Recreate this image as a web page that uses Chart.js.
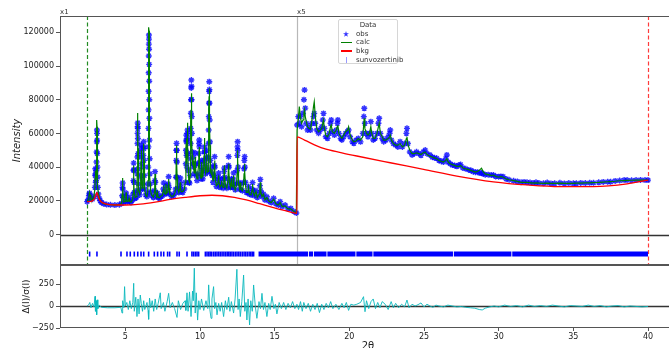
<!DOCTYPE html>
<html>
<head>
<meta charset="utf-8">
<title>Rietveld plot</title>
<script src="https://cdn.jsdelivr.net/npm/chart.js@4.4.1/dist/chart.umd.min.js"></script>
<style>
  html, body { margin: 0; padding: 0; background: #fff; }
  body { width: 669px; height: 348px; overflow: hidden; position: relative; font-family: 'DejaVu Sans', sans-serif; }
  canvas { position: absolute; left: 0; }
  #main { top: 0; }
  #resid { top: 264px; }
  .scaleTag { position: absolute; top: 8px; font-size: 7px; line-height: 8px; color: #333; }
  #legend { position: absolute; left: 338px; top: 19px; width: 60px; height: 45px; box-sizing: border-box;
            border: 1px solid #d6d6d6; border-radius: 2px; background: rgba(255,255,255,0.85);
            font-size: 7px; color: #333; }
  #legend .row { position: absolute; left: 0; right: 0; height: 8px; line-height: 8px; white-space: nowrap; }
  #legend .title { text-align: center; }
  #legend .txt { position: absolute; left: 17px; top: 0; }
  #legend .key { position: absolute; }
</style>
</head>
<body>
<canvas id="main" width="690" height="266"></canvas>
<canvas id="resid" width="690" height="101"></canvas>
<div class="scaleTag" id="tagLow">x1</div>
<div class="scaleTag" id="tagHigh">x5</div>
<div id="legend">
  <div class="row title" style="top:1px">Data</div>
  <div class="row" style="top:9.7px">
    <svg class="key" style="left:4px;top:1px" width="6" height="6" viewBox="0 0 10 10">
      <polygon points="5,0 6.2,3.6 10,3.6 6.9,5.9 8.1,9.6 5,7.3 1.9,9.6 3.1,5.9 0,3.6 3.8,3.6" fill="rgba(0,0,255,0.8)"/>
    </svg>
    <span class="txt">obs</span>
  </div>
  <div class="row" style="top:18.3px">
    <span class="key" style="left:2px;top:3.3px;width:11px;height:1.4px;background:#008000"></span>
    <span class="txt">calc</span>
  </div>
  <div class="row" style="top:27px">
    <span class="key" style="left:2px;top:3.3px;width:11px;height:1.4px;background:#ff0000"></span>
    <span class="txt">bkg</span>
  </div>
  <div class="row" style="top:35.7px">
    <span class="key" style="left:6.5px;top:1px;width:1.5px;height:6px;background:rgba(0,0,255,0.4)"></span>
    <span class="txt">sunvozertinib</span>
  </div>
</div>
<script>
// low angle part of the pattern (plotted x1)
const lowTth = [
  2.44, 2.50, 2.56, 2.60, 2.64, 2.70, 2.80, 2.90, 2.96, 2.98, 2.99, 3.00, 3.02, 3.04, 3.06, 3.07, 3.08, 3.09, 3.10, 3.105, 3.11, 3.12, 3.13, 3.14, 3.16, 3.19, 3.25, 3.32, 3.40,
  3.55, 3.75, 4.00, 4.30, 4.60,
  4.75, 4.79, 4.81, 4.82, 4.83, 4.85, 4.90, 5.00, 5.04, 5.05, 5.07, 5.13, 5.22, 5.25, 5.28, 5.38, 5.48,
  5.52, 5.54, 5.55, 5.56, 5.57, 5.58, 5.60, 5.66, 5.74,
  5.78, 5.80, 5.81, 5.815, 5.82, 5.825, 5.83, 5.835, 5.84, 5.85, 5.86, 5.88, 5.91, 5.96,
  6.01, 6.03, 6.05, 6.06, 6.07, 6.08, 6.09, 6.11, 6.14, 6.18, 6.20, 6.21, 6.22, 6.23, 6.24, 6.25, 6.27, 6.30, 6.36, 6.44,
  6.50, 6.52, 6.535, 6.545, 6.55, 6.555, 6.56, 6.565, 6.57, 6.575, 6.58, 6.585, 6.59, 6.595, 6.60, 6.605, 6.61, 6.62, 6.63, 6.645, 6.66, 6.69, 6.76, 6.88,
  6.95, 6.97, 6.99, 7.01, 7.04, 7.10, 7.15, 7.20, 7.30, 7.40, 7.48, 7.54, 7.57, 7.60, 7.66, 7.72, 7.76, 7.84, 7.87, 7.90, 7.93, 7.98, 8.10, 8.22, 8.32,
  8.37, 8.39, 8.41, 8.42, 8.43, 8.44, 8.45, 8.47, 8.50, 8.58, 8.64, 8.66, 8.68, 8.70, 8.74, 8.85, 8.95,
  9.02, 9.05, 9.06, 9.07, 9.08, 9.09, 9.10, 9.12, 9.14, 9.15, 9.16, 9.17, 9.18, 9.19, 9.21, 9.25, 9.30,
  9.34, 9.36, 9.37, 9.38, 9.39, 9.40, 9.41, 9.42, 9.43, 9.44, 9.45, 9.46, 9.48, 9.50, 9.53, 9.55, 9.57, 9.61,
  9.65, 9.68, 9.70, 9.74, 9.80, 9.86, 9.90, 9.92, 9.94, 9.95, 9.96, 9.98, 10.02, 10.07, 10.10, 10.12, 10.14, 10.19,
  10.25, 10.27, 10.29, 10.30, 10.31, 10.33, 10.37, 10.42, 10.44, 10.45, 10.46, 10.49, 10.54, 10.56, 10.57, 10.58, 10.59, 10.60, 10.61, 10.62, 10.63, 10.64, 10.65, 10.67, 10.69, 10.72,
  10.78, 10.80, 10.82, 10.87, 10.93, 10.96, 10.98, 11.00, 11.03, 11.10, 11.20, 11.23, 11.25, 11.27, 11.34, 11.43, 11.45, 11.48, 11.55, 11.60, 11.62, 11.63, 11.65, 11.70, 11.80,
  11.87, 11.90, 11.92, 11.94, 11.98, 12.04, 12.08, 12.10, 12.13, 12.20, 12.23, 12.25, 12.28, 12.36, 12.45, 12.48, 12.50, 12.51, 12.52, 12.53, 12.55, 12.58, 12.65, 12.70, 12.74, 12.84, 12.92, 12.95, 12.97, 12.99, 13.01, 13.04, 13.10,
  13.20, 13.25, 13.30, 13.42, 13.49, 13.52, 13.55, 13.64, 13.75, 13.84, 13.96, 14.01, 14.04, 14.07, 14.15, 14.25, 14.35, 14.48, 14.60, 14.78, 14.93, 15.08, 15.25, 15.37, 15.50, 15.70, 15.88, 16.08, 16.28, 16.45
];
const lowObs = [
  19500, 20500, 23000, 24500, 23500, 21500, 21000, 22500, 28000, 35000, 39000, 36000, 31000, 32000, 38000, 43000, 49000, 55000, 62000, 60000, 56000, 48000, 40000, 34000, 28000, 24000, 21500, 20000, 19000,
  18200, 17800, 17600, 17500, 17700,
  18500, 23000, 28000, 30600, 27000, 22000, 19200, 19500, 23000, 24600, 21000, 19500, 20000, 22000, 19800, 19000, 20500,
  24000, 32000, 38000, 42400, 38500, 31000, 25000, 21500, 22000,
  26000, 36000, 46000, 54000, 60000, 64000, 66200, 63000, 57000, 48000, 39000, 30000, 25000, 23500,
  27000, 35000, 46000, 51000, 53100, 49000, 42000, 33000, 27000, 30000, 40000, 47000, 52000, 55100, 51000, 44000, 35000, 27000, 23500, 22500,
  24500, 30000, 40000, 52000, 63000, 74000, 85000, 96000, 106000, 113000, 118400, 116000, 110000, 101000, 91000, 80000, 69000, 56000, 45000, 36000, 30000, 25500, 23000, 22000,
  26000, 32000, 37300, 31000, 25000, 22500, 24500, 22000, 21500, 22500, 23000, 27000, 30600, 25500, 24000, 29000, 24500, 25000, 30000, 34300, 28000, 24000, 22500, 23000, 24500,
  27000, 34000, 44000, 50000, 54100, 50000, 43000, 34000, 27500, 25000, 27500, 31000, 33500, 29000, 25500, 25000, 27000,
  31000, 42000, 50000, 56000, 59000, 55000, 47000, 40000, 48000, 56000, 60000, 62000, 57000, 48000, 38000, 31000, 30500,
  35000, 45000, 54000, 63000, 72000, 80000, 87000, 91700, 88000, 80000, 70000, 60000, 49000, 42000, 42000, 46000, 40000, 36000,
  41000, 48400, 42000, 35000, 32000, 36000, 42000, 48000, 54000, 56100, 52000, 43000, 35000, 33000, 40000, 44000, 38000, 33000,
  38000, 44000, 49000, 52000, 49000, 42000, 36000, 40000, 46000, 50000, 45000, 37000, 38000, 46000, 54000, 62000, 70000, 78000, 85000, 90700, 86000, 78000, 68000, 55000, 44000, 37000,
  36000, 40000, 35000, 31000, 35000, 41000, 46200, 40000, 33000, 28500, 30000, 34000, 36500, 32000, 28000, 30000, 33000, 29000, 27500, 33000, 37500, 39500, 34000, 29000, 27500,
  33000, 41000, 46200, 40000, 31000, 28000, 31000, 33000, 28500, 28000, 33000, 36500, 30000, 26500, 30000, 38000, 47000, 52000, 55100, 50000, 40000, 31000, 27000, 30000, 26500, 26000, 31000, 39000, 44000, 46200, 40000, 31000, 25000,
  25000, 28400, 24000, 23500, 27000, 30800, 26000, 23000, 26000, 22000, 24000, 29000, 32700, 26000, 22500, 24000, 20500, 22400, 19800, 19000, 21500, 18200, 17500, 19500, 16600, 17500, 15200, 15500, 13700, 12800
];
const lowCalc = [
  19600, 20500, 22500, 25000, 23500, 21200, 20800, 23000, 27000, 34000, 38000, 36500, 32000, 34000, 42000, 48000, 55000, 62000, 68000, 64000, 58000, 50000, 42000, 35500, 29000, 25000, 22000, 20200, 19200,
  18300, 17900, 17700, 17500, 17700,
  18600, 24000, 30500, 33500, 29000, 23000, 19300, 19800, 23500, 25000, 21500, 19600, 20000, 21500, 19800, 19200, 20800,
  24000, 31000, 37000, 41000, 37500, 30500, 25000, 22000, 22500,
  27000, 40000, 52000, 60000, 66000, 70000, 72100, 68000, 61000, 51000, 41000, 32000, 26000, 24000,
  27000, 34000, 44000, 48500, 50000, 47000, 41000, 33000, 27500, 30000, 39000, 46000, 51500, 54000, 50500, 44000, 35000, 27500, 23500, 22500,
  25000, 32000, 44000, 57000, 68000, 80000, 91000, 102000, 112000, 119000, 123000, 121000, 115000, 106000, 96000, 85000, 73000, 59000, 47000, 37000, 30500, 26000, 23500, 22200,
  25500, 31000, 36000, 30500, 25000, 22500, 25000, 22000, 21800, 23000, 23000, 26000, 29000, 25000, 24000, 30000, 24500, 25000, 29000, 33000, 27500, 24000, 22500, 23000, 24800,
  27000, 33500, 43000, 49000, 53000, 49500, 42500, 34000, 27500, 25000, 27000, 29500, 31000, 28000, 25500, 25500, 27000,
  31000, 41000, 48000, 54000, 57000, 54000, 47000, 42000, 53000, 61000, 64500, 66400, 61000, 52000, 40000, 32000, 31000,
  35000, 43000, 51000, 59000, 67000, 74000, 80000, 83800, 81000, 74000, 65000, 56000, 47000, 41000, 41000, 44000, 40000, 36500,
  40500, 46000, 41000, 35500, 33000, 37000, 41000, 46000, 50500, 52000, 49000, 41500, 35000, 33500, 39500, 43000, 38000, 34000,
  40000, 47000, 54000, 57300, 54000, 44000, 37000, 40000, 45000, 48000, 44000, 37000, 37500, 44000, 51000, 59000, 67000, 75000, 82000, 86700, 83000, 75000, 65000, 53000, 43000, 37000,
  35500, 39000, 35000, 31500, 34500, 40000, 44000, 39000, 33000, 29000, 30000, 33000, 35000, 31500, 28000, 29500, 32000, 29000, 28000, 34000, 39000, 41000, 35000, 29500, 27500,
  32000, 38500, 42000, 37500, 30500, 28000, 31000, 33500, 29000, 28000, 32000, 35000, 29500, 26500, 29500, 36000, 43000, 47500, 50000, 46000, 37500, 30000, 27000, 31000, 27000, 26000, 30000, 36000, 40500, 42000, 37500, 30000, 25000,
  25000, 28000, 24000, 23500, 26500, 30000, 25500, 23000, 25500, 22000, 24000, 28000, 31000, 25500, 22500, 24000, 20500, 22000, 19800, 19000, 21000, 18200, 17500, 19000, 16600, 17000, 15200, 15200, 13700, 12800
];

// high angle part, values as plotted (x5)
const highTth = [
  16.50, 16.58, 16.65, 16.72, 16.80, 16.90, 16.96, 17.00, 17.05, 17.12,
  17.20, 17.30, 17.40, 17.50, 17.60, 17.65, 17.72, 17.82, 17.94, 18.05,
  18.15, 18.22, 18.27, 18.33, 18.42, 18.54, 18.65, 18.74, 18.79, 18.86,
  19.00, 19.12, 19.20, 19.23, 19.30, 19.42, 19.50, 19.62, 19.75, 19.88,
  19.95, 20.05, 20.20, 20.30, 20.45, 20.60, 20.75, 20.90, 20.97, 21.00,
  21.04, 21.15, 21.25, 21.35, 21.44, 21.50, 21.60, 21.72, 21.85, 21.95,
  22.00, 22.08, 22.20, 22.30, 22.45, 22.60, 22.70, 22.74, 22.82, 22.95,
  23.10, 23.25, 23.40, 23.55, 23.70, 23.82, 23.86, 23.92, 24.05, 24.20,
  24.35, 24.50, 24.65, 24.80, 24.95, 25.08, 25.20, 25.40, 25.55, 25.70,
  25.85, 26.00, 26.15, 26.30, 26.45, 26.53, 26.62, 26.75, 26.90, 27.05,
  27.20, 27.35, 27.45, 27.60, 27.80, 28.00, 28.15, 28.30, 28.45, 28.60,
  28.75, 28.85, 28.95, 29.10, 29.30, 29.50, 29.65, 29.80, 30.00, 30.15,
  30.30, 30.50, 30.70, 31.00, 31.25, 31.50, 31.70, 31.90, 32.10, 32.30,
  32.50, 32.70, 33.00, 33.25, 33.50, 33.75, 34.10, 34.40, 34.70, 35.00,
  35.20, 35.50, 35.80, 36.10, 36.35, 36.70, 37.00, 37.30, 37.50, 37.80,
  38.10, 38.40, 38.60, 38.90, 39.20, 39.50, 39.80, 40.00
];
const highObs = [
  65000, 70000, 66000, 70000, 64000, 72000, 80000, 85800, 75000, 66000,
  62000, 64000, 62000, 66000, 70000, 71900, 66000, 62000, 60100, 62000,
  64000, 68000, 71900, 63000, 58000, 57100, 60000, 66000, 68000, 61000,
  59000, 62000, 66000, 68000, 60000, 57000, 56100, 58000, 60000, 61000,
  62000, 58000, 55000, 54100, 56000, 57000, 55000, 60000, 70000, 74900,
  66000, 60000, 58000, 60000, 67000, 60000, 56100, 57000, 60000, 66000,
  69000, 60000, 57000, 55100, 56000, 58000, 60000, 62000, 56000, 54000,
  53100, 52000, 55100, 52000, 54000, 60000, 63000, 54000, 49000, 47200,
  48000, 49100, 48000, 47000, 49000, 50100, 48000, 47200, 46000, 45500,
  45200, 44000, 43500, 43000, 45000, 47200, 43000, 42000, 41200, 41000,
  40500, 41200, 41500, 39500, 39000, 38300, 38000, 37300, 37000, 37000,
  36500, 36500, 36000, 35500, 35500, 35300, 35300, 34500, 34300, 34500,
  34300, 33000, 32500, 31900, 31500, 31000, 31200, 31000, 30800, 30500,
  31000, 30500, 30400, 30800, 30300, 30400, 30700, 30300, 30500, 30400,
  30400, 30600, 30500, 30700, 30700, 31000, 31200, 31300, 31300, 31800,
  32000, 32300, 32300, 32200, 32300, 32400, 32300, 32300
];
const highCalc = [
  62000, 68000, 75900, 70000, 66000, 68000, 72000, 74000, 70000, 67000,
  64000, 63000, 62500, 68000, 76000, 78800, 70000, 63000, 61000, 62000,
  63000, 66000, 68000, 63000, 59000, 58000, 60000, 64000, 65000, 61000,
  60000, 62000, 64000, 65000, 60000, 58000, 57000, 59000, 61000, 62000,
  64000, 59000, 56000, 55000, 55500, 57000, 56000, 58000, 66000, 69000,
  63000, 60000, 59000, 60000, 64000, 60000, 57000, 57000, 60000, 64000,
  66000, 60000, 58000, 56000, 56000, 57000, 58000, 59000, 56000, 54000,
  53000, 53000, 54000, 52000, 53000, 57000, 58000, 53500, 50000, 48000,
  48000, 48500, 48000, 47500, 48500, 49000, 47500, 46500, 46000, 45500,
  45000, 44000, 43500, 43000, 44000, 45000, 43000, 42000, 41500, 41000,
  40500, 40500, 41000, 39500, 39000, 38500, 38000, 37500, 37000, 37500,
  38500, 39300, 37500, 36000, 35500, 35000, 35300, 34500, 34000, 34500,
  34000, 33000, 32500, 32000, 31500, 31000, 31000, 31000, 30800, 30500,
  30600, 30500, 30400, 30500, 30400, 30400, 30500, 30400, 30400, 30400,
  30500, 30500, 30600, 30700, 30800, 30900, 31100, 31300, 31400, 31600,
  31900, 32000, 32100, 32200, 32300, 32300, 32300, 32300
];

// background
const bkgTth = [2.44, 2.80, 2.95, 3.05, 3.10, 3.15, 3.25, 3.40, 3.70, 4.20, 5.00, 6.00, 7.00, 8.00, 9.00,
  10.00, 10.80, 11.50, 12.30, 13.10, 14.00, 14.80, 15.50, 16.00, 16.49, 16.50, 17.00, 18.27, 19.50, 20.50,
  22.74, 24.97, 27.20, 29.65, 31.90, 34.10, 36.35, 38.60, 40.00];
const bkgI = [19500, 20000, 21500, 24000, 25000, 23500, 21000, 19300, 18200, 17600, 17500, 18000, 19200, 20800, 22000,
  23000, 23300, 23000, 22000, 20500, 18300, 16300, 14600, 13500, 12600, 58000, 56000, 51100, 48500, 46600,
  42600, 38700, 34700, 31300, 29400, 28400, 28400, 30000, 32300];

// reflection positions (single marks, then the runs where they merge)
const reflTth = [2.61, 3.10, 4.71, 5.11, 5.33, 5.60, 5.83, 6.05, 6.23, 6.56, 6.94, 7.16, 7.39, 7.57, 7.83, 7.97,
  8.46, 8.61, 9.13, 9.46, 9.57, 9.69, 9.80, 9.91,
  10.36, 10.47, 10.58, 10.68, 10.79, 10.92, 11.03, 11.14, 11.26, 11.37, 11.48, 11.60, 11.71, 11.82, 11.93, 12.03,
  12.14, 12.25, 12.37, 12.48, 12.60, 12.71, 12.83, 12.95, 13.06, 13.17, 13.29, 13.40, 13.50, 13.59];
const reflRunFrom = [13.92, 17.30, 17.63, 18.53, 20.47, 21.61, 27.00, 30.91];
const reflRunTo = [17.24, 17.57, 18.47, 20.41, 21.55, 26.94, 30.85, 40.00];

// difference curve
const diffTth = [
  2.44, 2.55, 2.62, 2.70, 2.80, 2.90, 2.97, 3.00, 3.05, 3.08,
  3.12, 3.16, 3.25, 3.40, 3.80, 4.30, 4.70, 4.78, 4.82, 4.90,
  4.95, 5.00, 5.10, 5.20, 5.30, 5.40, 5.50, 5.56, 5.60, 5.70,
  5.78, 5.85, 5.92, 6.00, 6.07, 6.15, 6.23, 6.30, 6.45, 6.52,
  6.56, 6.62, 6.70, 6.80, 6.90, 7.00, 7.10, 7.20, 7.34, 7.40,
  7.55, 7.65, 7.80, 7.90, 8.00, 8.15, 8.30, 8.46, 8.55, 8.70,
  8.85, 9.00, 9.05, 9.13, 9.20, 9.30, 9.40, 9.50, 9.55, 9.62,
  9.68, 9.75, 9.84, 9.92, 10.00, 10.10, 10.25, 10.40, 10.52, 10.58,
  10.66, 10.74, 10.80, 10.91, 10.98, 11.06, 11.14, 11.25, 11.35, 11.45,
  11.58, 11.70, 11.80, 11.92, 12.00, 12.10, 12.25, 12.35, 12.47, 12.55,
  12.62, 12.70, 12.80, 12.92, 13.00, 13.08, 13.14, 13.22, 13.32, 13.40,
  13.50, 13.59, 13.70, 13.81, 13.95, 14.05, 14.15, 14.25, 14.35, 14.48,
  14.60, 14.70, 14.82, 14.95, 15.05, 15.15, 15.30, 15.45, 15.60, 15.75,
  15.90, 16.05, 16.20, 16.35, 16.49, 16.60, 16.73, 16.85, 16.95, 17.10,
  17.25, 17.40, 17.55, 17.70, 17.85, 18.00, 18.15, 18.30, 18.45, 18.60,
  18.75, 18.90, 19.10, 19.30, 19.50, 19.65, 19.80, 19.95, 20.10, 20.30,
  20.50, 20.75, 20.95, 21.05, 21.15, 21.30, 21.45, 21.60, 21.75, 21.90,
  22.05, 22.20, 22.40, 22.60, 22.80, 22.95, 23.10, 23.30, 23.50, 23.70,
  23.86, 24.00, 24.20, 24.40, 24.60, 24.80, 25.00, 25.20, 25.40, 25.60,
  25.80, 26.00, 26.30, 26.60, 26.90, 27.20, 27.50, 27.80, 28.10, 28.40,
  28.70, 28.90, 29.10, 29.40, 29.70, 30.00, 30.40, 30.80, 31.20, 31.60,
  32.00, 32.40, 32.80, 33.20, 33.60, 34.00, 34.40, 34.80, 35.20, 35.60,
  36.00, 36.40, 36.80, 37.20, 37.60, 38.00, 38.40, 38.80, 39.20, 39.60,
  40.00
];
const diffVal = [
  0, 15, 40, -20, 30, -10, 110, -60, 60, -100,
  70, -30, 10, -15, -20, -20, -15, -80, 60, -20,
  220, 0, 40, -40, 60, -30, 40, 258, -60, 100,
  -120, 80, -90, 125, 30, -60, 60, -40, 40, -50,
  -151, 90, -20, 60, -60, 80, -40, 30, 150, -30,
  40, -60, 50, 144, -20, 40, -30, -130, 60, -40,
  30, 60, -50, 150, -60, 160, -120, 170, 60, 430,
  -80, 150, -160, 60, -40, 80, -50, 60, -30, 240,
  -40, -140, 80, 220, -30, 40, -100, 30, -60, 40,
  -120, 60, -40, 100, -60, 50, -80, 80, 417, -40,
  80, -120, 50, 352, -60, 40, -159, 80, -216, 60,
  -60, 239, 0, -140, 50, -30, 144, -40, 40, -120,
  30, -40, 110, -30, 20, -90, 40, -30, 40, -40,
  30, -20, 50, -30, 20, -40, 50, -60, 40, -30,
  30, -60, 20, -40, 30, -75, 20, -40, 30, -20,
  50, -30, 20, -40, 30, -20, 40, -50, 20, 10,
  20, 40, 106, -65, 60, -30, 50, 80, -30, 40,
  -20, 50, 20, -40, 50, -20, 30, -20, 20, -10,
  68, -20, 20, 0, 15, 35, -10, 20, 0, -15,
  10, 0, -10, 10, 0, -10, -5, -15, -20, -25,
  -40, -45, -25, -10, 0, -10, 10, -5, 5, -10,
  10, -5, 5, -5, 10, 0, -10, 5, 0, -5,
  10, -5, 5, -10, 0, 5, -10, 0, -5, -10,
  -5
];

const xTicks = [5, 10, 15, 20, 25, 30, 35, 40];
const yTicks = [0, 20000, 40000, 60000, 80000, 100000, 120000];
const diffTicks = [-250, 0, 250];
const xRange = [0.625, 41.875];
const yRange = [-18100, 129700];
const diffRange = [-250, 466];
const limits = [2.45, 40];
const scaleBreak = 16.5;
const reflLevel = -11600;

Chart.defaults.font.family = "'DejaVu Sans', sans-serif";
Chart.defaults.color = '#222';

const pts = (xs, ys) => xs.map((x, i) => ({ x: x, y: ys[i] }));
const fmt = v => (v < 0 ? '\u2212' + Math.abs(v) : String(v));

const profileTth = lowTth.concat(highTth);
const obsPts = pts(profileTth, lowObs.concat(highObs));
const calcPts = pts(profileTth, lowCalc.concat(highCalc));
const reflPts = reflTth.map(x => ({ x: x, y: reflLevel }));
const runPts = [];
reflRunFrom.forEach((x0, i) => {
  runPts.push({ x: x0, y: reflLevel }, { x: reflRunTo[i], y: reflLevel }, { x: reflRunTo[i], y: null });
});

function fixWidth(scale) {
  scale.width = 60;
  scale.paddingTop = 0;
  scale.paddingBottom = 0;
}

const panel = {
  id: 'panel',
  beforeDatasetsDraw(chart, args, opts) {
    const { ctx, chartArea: a, scales } = chart;
    ctx.save();
    (opts.vlines || []).forEach(v => {
      const px = Math.round(scales.x.getPixelForValue(v.x)) + 0.5;
      ctx.strokeStyle = v.color;
      ctx.lineWidth = v.width;
      ctx.setLineDash(v.dash);
      ctx.beginPath();
      ctx.moveTo(px, a.top);
      ctx.lineTo(px, a.bottom);
      ctx.stroke();
    });
    ctx.setLineDash([]);
    const y0 = Math.round(scales.y.getPixelForValue(0)) + 0.5;
    ctx.strokeStyle = '#333';
    ctx.lineWidth = 1.5;
    ctx.beginPath();
    ctx.moveTo(a.left, y0);
    ctx.lineTo(a.right, y0);
    ctx.stroke();
    ctx.restore();
  },
  afterDraw(chart) {
    const { ctx, chartArea: a } = chart;
    ctx.save();
    ctx.strokeStyle = '#555';
    ctx.lineWidth = 1;
    ctx.strokeRect(Math.round(a.left) + 0.5, Math.round(a.top) + 0.5, Math.round(a.right - a.left), Math.round(a.bottom - a.top) - 1);
    ctx.restore();
  }
};

const mainChart = new Chart(document.getElementById('main'), {
  type: 'scatter',
  data: {
    datasets: [
      { label: 'bkg', type: 'line', data: pts(bkgTth, bkgI), borderColor: '#ff0000', borderWidth: 1.3,
        pointRadius: 0, cubicInterpolationMode: 'monotone', order: 1 },
      { label: 'calc', type: 'line', data: calcPts, borderColor: '#008000', borderWidth: 1.2,
        pointRadius: 0, tension: 0, order: 2 },
      { label: 'obs', data: obsPts, pointStyle: 'star', pointRadius: 3, borderWidth: 1.4,
        borderColor: 'rgba(0,0,255,0.8)', backgroundColor: 'rgba(0,0,255,0.8)', order: 3 },
      { label: 'sunvozertinib', data: reflPts, pointStyle: 'line', rotation: 90, pointRadius: 2.5,
        borderWidth: 1.6, borderColor: '#0000ff', order: 4 },
      { label: 'sunvozertinib runs', type: 'line', data: runPts, borderColor: '#0000ff', borderWidth: 5,
        borderCapStyle: 'butt', pointRadius: 0, spanGaps: false, order: 5 }
    ]
  },
  options: {
    responsive: false,
    animation: false,
    events: [],
    layout: { autoPadding: false, padding: { top: 16, right: 14, bottom: 1, left: 0 } },
    plugins: {
      legend: { display: false },
      tooltip: { enabled: false },
      panel: {
        vlines: [
          { x: limits[0], color: '#228b22', width: 1.2, dash: [4, 2.5] },
          { x: scaleBreak, color: '#b8b8b8', width: 1.2, dash: [] },
          { x: limits[1], color: '#ff3b3b', width: 1.2, dash: [4, 2.5] }
        ]
      }
    },
    scales: {
      x: { type: 'linear', display: false, min: xRange[0], max: xRange[1] },
      y: {
        type: 'linear', min: yRange[0], max: yRange[1],
        afterBuildTicks: s => { s.ticks = yTicks.map(v => ({ value: v })); },
        afterFit: fixWidth,
        grid: { drawOnChartArea: false, tickLength: 4, color: '#555' },
        border: { display: false },
        ticks: { font: { size: 8 }, padding: 2, callback: fmt },
        title: { display: true, text: 'Intensity', font: { size: 10, style: 'italic' }, padding: { top: 11, bottom: 0 } }
      }
    }
  },
  plugins: [panel, {
    id: 'tags',
    afterDraw(chart) {
      document.getElementById('tagLow').style.left = Math.round(chart.chartArea.left) + 'px';
      document.getElementById('tagHigh').style.left = Math.round(chart.scales.x.getPixelForValue(scaleBreak)) + 'px';
    }
  }]
});

const residChart = new Chart(document.getElementById('resid'), {
  type: 'scatter',
  data: {
    datasets: [
      { label: 'diff', type: 'line', data: pts(diffTth, diffVal), borderColor: 'rgba(10,185,190,0.9)',
        borderWidth: 1, pointRadius: 0, tension: 0 }
    ]
  },
  options: {
    responsive: false,
    animation: false,
    events: [],
    layout: { autoPadding: false, padding: { top: 1, right: 14, bottom: 0, left: 0 } },
    plugins: { legend: { display: false }, tooltip: { enabled: false }, panel: { vlines: [] } },
    scales: {
      x: {
        type: 'linear', min: xRange[0], max: xRange[1],
        afterBuildTicks: s => { s.ticks = xTicks.map(v => ({ value: v })); },
        afterFit: s => { s.height = 37; s.paddingLeft = 0; s.paddingRight = 0; },
        grid: { drawOnChartArea: false, tickLength: 3, color: '#555' },
        border: { display: false },
        ticks: { font: { size: 8 }, padding: 1, maxRotation: 0 },
        title: { display: true, text: '2θ', font: { size: 10 }, padding: { top: 0, bottom: 13 } }
      },
      y: {
        type: 'linear', min: diffRange[0], max: diffRange[1],
        afterBuildTicks: s => { s.ticks = diffTicks.map(v => ({ value: v })); },
        afterFit: fixWidth,
        grid: { drawOnChartArea: false, tickLength: 4, color: '#555' },
        border: { display: false },
        ticks: { font: { size: 8 }, padding: 2, callback: fmt },
        title: { display: true, text: 'Δ(I)/σ(I)', font: { size: 9 }, padding: { top: 21, bottom: 0 } }
      }
    }
  },
  plugins: [panel]
});
</script>
</body>
</html>
